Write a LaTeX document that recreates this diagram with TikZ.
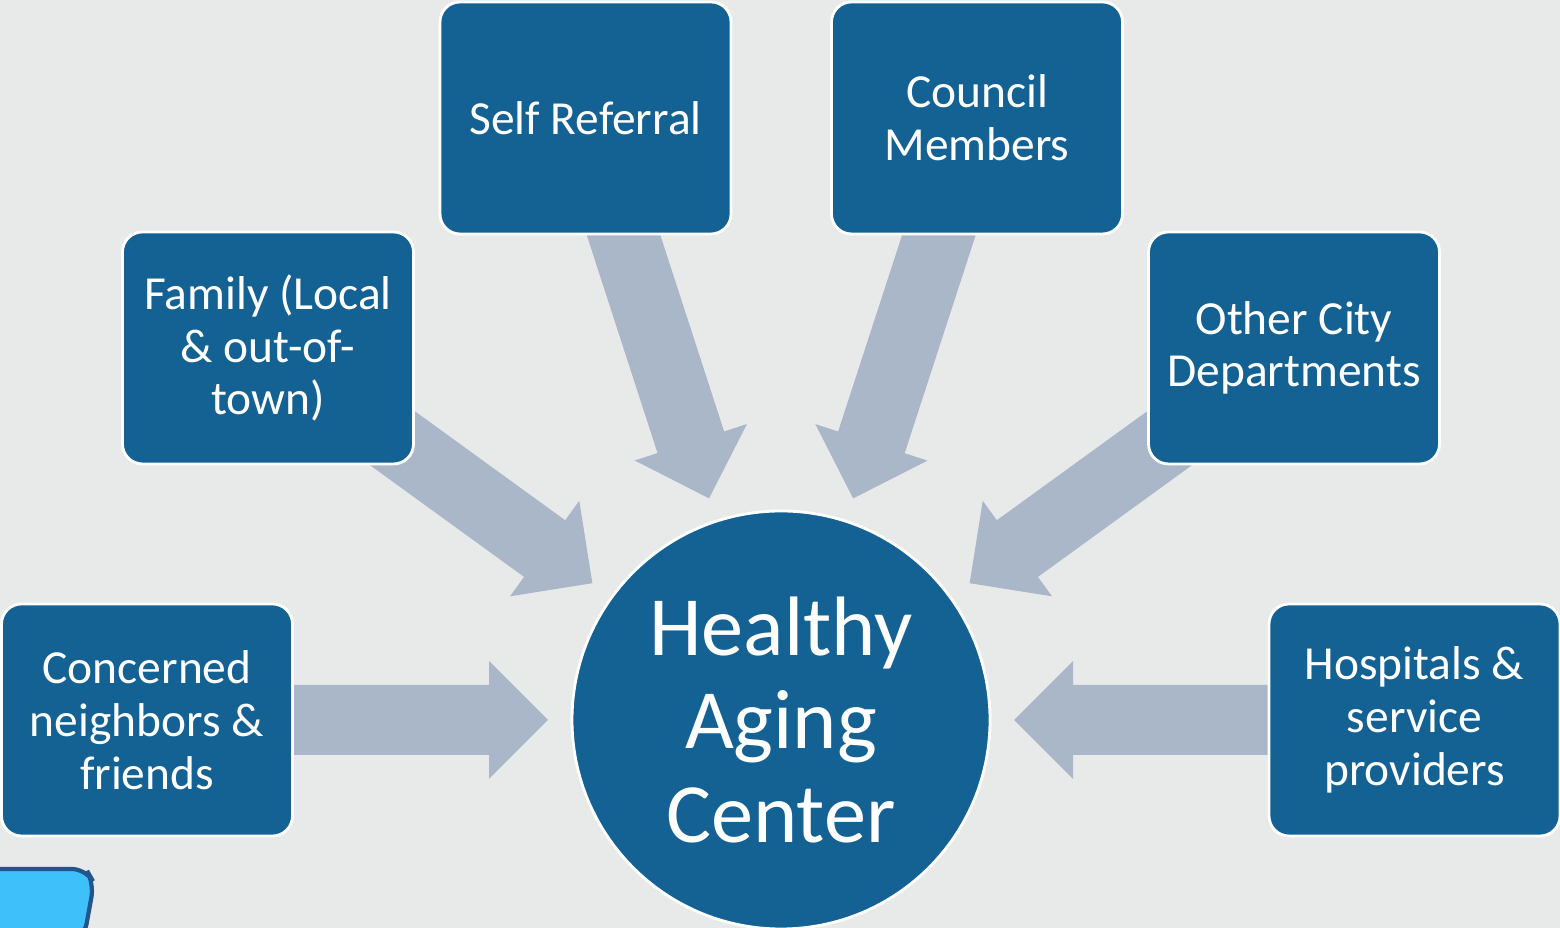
\documentclass[tikz,border=0pt]{standalone}
\usepackage{fontspec}
\setmainfont{Carlito}
\usetikzlibrary{calc}
\usetikzlibrary{backgrounds}

\definecolor{boxblue}{RGB}{20,98,148}
\definecolor{feedgray}{RGB}{170,183,200}
\definecolor{pagegray}{RGB}{232,234,234}
\definecolor{tabcyan}{RGB}{62,192,250}
\definecolor{tabedge}{RGB}{35,85,140}

\begin{document}
\begin{tikzpicture}[
    source/.style = {draw=white, line width=0.8pt, fill=boxblue, rounded corners=0.2cm,
        minimum width=2.91cm, minimum height=2.32cm, align=center, text=white,
        font=\fontsize{13.5}{15}\selectfont},
    hub/.style = {circle, draw=white, line width=0.8pt, fill=boxblue, minimum size=4.18cm,
        inner sep=0pt, align=center, text=white, font=\fontsize{24}{26.5}\selectfont},
    feed/.style = {fill=feedgray}
]
    \useasboundingbox (0, 0) rectangle (15.6, 9.28);
    \node[source] (self) at (5.855, 8.10) {Self Referral};
    \node[source] (council) at (9.77, 8.10) {Council\\Members};
    \node[source] (family) at (2.68, 5.80) {Family (Local\\\& out-of-\\town)};
    \node[source] (other) at (12.94, 5.80) {Other City\\Departments};
    \node[source] (neighbors) at (1.47, 2.08) {Concerned\\neighbors \&\\friends};
    \node[source] (hospitals) at (14.145, 2.08) {Hospitals \&\\service\\providers};
    \node[hub] (hac) at (7.81, 2.08) {Healthy\\Aging\\Center};
    \begin{scope}[on background layer]
        \fill[pagegray] (0, 0) rectangle (15.6, 9.28);
        \foreach \src in {self, council, family, other, neighbors, hospitals} {
            \coordinate (tip) at ($(hac.center)!2.33cm!(\src.center)$);
            \coordinate (base) at ($(hac.center)!2.92cm!(\src.center)$);
            \fill[feed] ($(\src.center)!0.35cm!90:(hac.center)$)
                -- ($(base)!0.35cm!-90:(\src.center)$)
                -- ($(base)!0.59cm!-90:(\src.center)$)
                -- (tip)
                -- ($(base)!0.59cm!90:(\src.center)$)
                -- ($(base)!0.35cm!90:(\src.center)$)
                -- ($(\src.center)!0.35cm!-90:(hac.center)$) -- cycle;
        }
    \end{scope}
    % corner tab
    \draw[fill=tabcyan, draw=tabedge, line width=1.2pt, rounded corners=4pt]
        (-0.1, 0.59) -- (0.86, 0.59) -- (0.94, 0.45) -- (0.84, -0.1) -- (-0.1, -0.1);
\end{tikzpicture}
\end{document}
